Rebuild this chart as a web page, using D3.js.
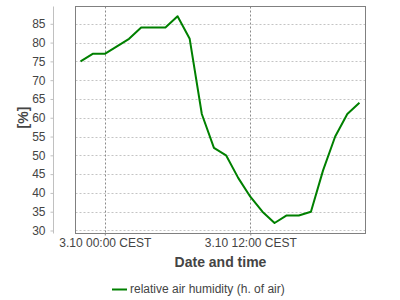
<!DOCTYPE html>
<html lang="en">
<head>
<meta charset="utf-8">
<title>Relative air humidity</title>
<script src="https://d3js.org/d3.v7.min.js"></script>
<style>
body { margin: 0; background: #fff; }
svg { display: block; font-family: "Liberation Sans", Arial, sans-serif; }
.axis path, .axis line { stroke: #c0c0c0; }
.axis text { fill: #444; font-size: 12px; }
</style>
</head>
<body>
<div id="chart"></div>
<script>

// hourly readings, 3.09 22:00 .. 3.10 21:00
var times = ["2023-03-09T22:00", "2023-03-09T23:00", "2023-03-10T00:00", "2023-03-10T01:00",
  "2023-03-10T02:00", "2023-03-10T03:00", "2023-03-10T04:00", "2023-03-10T05:00",
  "2023-03-10T06:00", "2023-03-10T07:00", "2023-03-10T08:00", "2023-03-10T09:00",
  "2023-03-10T10:00", "2023-03-10T11:00", "2023-03-10T12:00", "2023-03-10T13:00",
  "2023-03-10T14:00", "2023-03-10T15:00", "2023-03-10T16:00", "2023-03-10T17:00",
  "2023-03-10T18:00", "2023-03-10T19:00", "2023-03-10T20:00", "2023-03-10T21:00"]
var humidity = [75, 77, 77, 79, 81, 84, 84, 84, 87, 81, 61, 52,
  50, 44, 39, 35, 32, 34, 34, 35, 46, 55, 61, 64]
var yTicks = [30, 35, 40, 45, 50, 55, 60, 65, 70, 75, 80, 85]
var xTicks = ["2023-03-10T00:00", "2023-03-10T12:00"]
var seriesName = "relative air humidity (h. of air)"

var parse = d3.utcParse("%Y-%m-%dT%H:%M")
var data = times.map(function(t, i) { return {date: parse(t), value: humidity[i]} })

var width = 400, height = 300
var plot = {left: 75.5, right: 365.5, top: 6.5, bottom: 233.5}

var svg = d3.select("#chart").append("svg")
  .attr("width", width)
  .attr("height", height)

var x = d3.scaleUtc()
  .domain([parse("2023-03-09T21:35"), parse("2023-03-10T21:30")])
  .range([plot.left, plot.right])

var y = d3.scaleLinear()
  .domain([29.2, 89.6])
  .range([plot.bottom, plot.top])

// horizontal grid
svg.append("g").selectAll("line")
  .data(yTicks).enter().append("line")
  .attr("x1", plot.left).attr("x2", plot.right)
  .attr("y1", function(d) { return Math.round(y(d)) + 0.5 })
  .attr("y2", function(d) { return Math.round(y(d)) + 0.5 })
  .style("stroke", "#c4c4c4")
  .style("stroke-dasharray", "2,2")

// vertical grid
svg.append("g").selectAll("line")
  .data(xTicks.map(parse)).enter().append("line")
  .attr("x1", function(d) { return Math.round(x(d)) + 0.5 })
  .attr("x2", function(d) { return Math.round(x(d)) + 0.5 })
  .attr("y1", plot.top).attr("y2", plot.bottom)
  .style("stroke", "#8a8a8a")
  .style("stroke-dasharray", "2,2")

// the line
svg.append("path")
  .datum(data)
  .attr("d", d3.line()
    .x(function(d) { return x(d.date) })
    .y(function(d) { return y(d.value) }))
  .style("fill", "none")
  .style("stroke", "#008000")
  .style("stroke-width", 2)
  .style("stroke-linejoin", "round")

// plot border
svg.append("rect")
  .attr("x", plot.left).attr("y", plot.top)
  .attr("width", plot.right - plot.left)
  .attr("height", plot.bottom - plot.top)
  .style("fill", "none")
  .style("stroke", "#808080")

// y axis, offset to the left of the plot
svg.append("g")
  .attr("class", "axis")
  .attr("transform", "translate(53.5,0)")
  .call(d3.axisLeft(y).tickValues(yTicks).tickSize(3).tickSizeOuter(0).tickPadding(5))
  .call(function(g) { g.select(".domain").attr("d", "M0," + plot.top + "V" + plot.bottom) })

// x axis: ticks and labels only
var xAxis = svg.append("g")
  .attr("class", "axis")
  .attr("transform", "translate(0," + plot.bottom + ")")
  .call(d3.axisBottom(x).tickValues(xTicks.map(parse)).tickSize(2).tickPadding(3)
    .tickFormat(function(d) { return d3.utcFormat("%-m.%d %H:%M")(d) + " CEST" }))
xAxis.select(".domain").remove()
xAxis.selectAll(".tick line").style("stroke", "#8a8a8a")

// axis titles
svg.append("text")
  .attr("x", (plot.left + plot.right) / 2)
  .attr("y", 267)
  .attr("text-anchor", "middle")
  .style("font-size", "14px")
  .style("font-weight", "bold")
  .style("fill", "#444")
  .text("Date and time")

svg.append("text")
  .attr("transform", "translate(28,117.5) rotate(-90)")
  .attr("text-anchor", "middle")
  .style("font-size", "14px")
  .style("font-weight", "bold")
  .style("fill", "#444")
  .text("[%]")

// legend
svg.append("line")
  .attr("x1", 112).attr("x2", 127)
  .attr("y1", 289.5).attr("y2", 289.5)
  .style("stroke", "#008000")
  .style("stroke-width", 2)

svg.append("text")
  .attr("x", 130)
  .attr("y", 293)
  .style("font-size", "12px")
  .style("fill", "#444")
  .text(seriesName)

</script>
</body>
</html>
